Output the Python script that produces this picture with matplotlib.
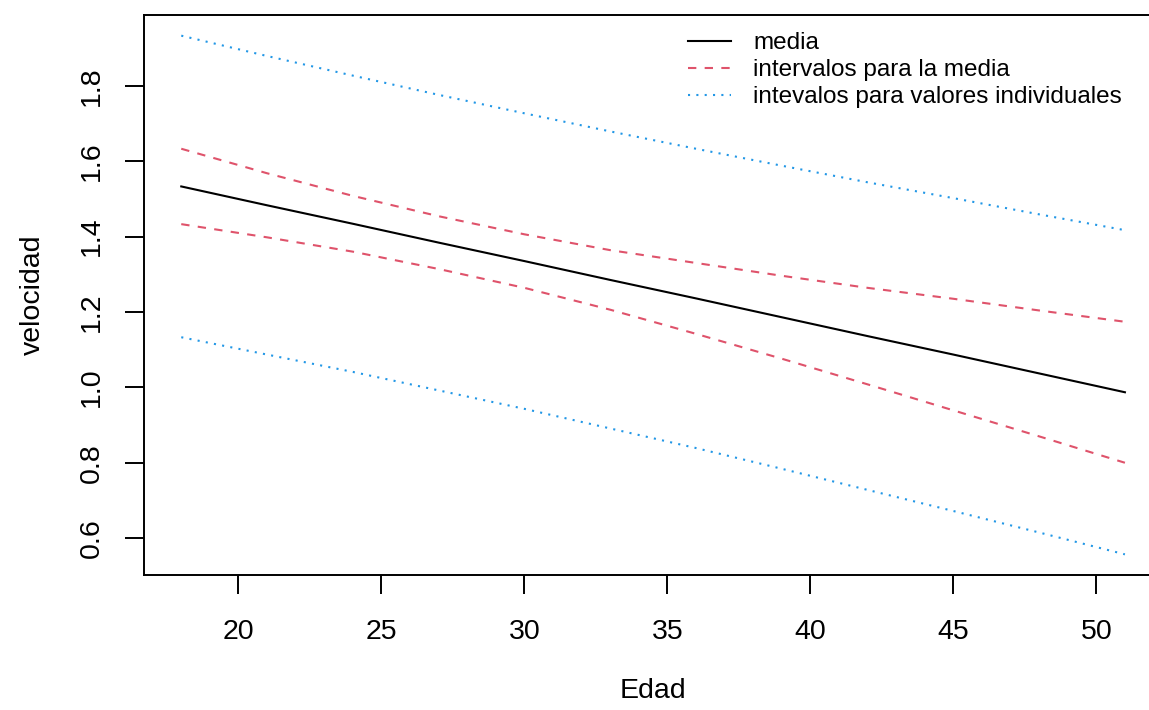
import matplotlib
matplotlib.use("Agg")
import matplotlib.pyplot as plt

plt.rcParams['font.family'] = ['Liberation Sans', 'DejaVu Sans']

# edades en las que se evalua el modelo
edad = [18, 21, 24, 27, 30, 33, 36, 39, 42, 45, 48, 51]

# velocidad media estimada
media = [1.533, 1.483, 1.434, 1.384, 1.335, 1.285, 1.236, 1.186, 1.136, 1.087, 1.037, 0.987]

# intervalos de confianza para la media
ic_sup = [1.633, 1.568, 1.508, 1.454, 1.406, 1.364, 1.330, 1.296, 1.264, 1.235, 1.204, 1.174]
ic_inf = [1.433, 1.398, 1.360, 1.314, 1.264, 1.206, 1.142, 1.076, 1.008, 0.939, 0.870, 0.800]

# intervalos de prediccion para valores individuales
ip_sup = [1.933, 1.879, 1.827, 1.776, 1.727, 1.679, 1.633, 1.588, 1.544, 1.502, 1.459, 1.417]
ip_inf = [1.133, 1.087, 1.041, 0.992, 0.943, 0.891, 0.839, 0.784, 0.728, 0.672, 0.615, 0.557]

x_ticks = [20, 25, 30, 35, 40, 45, 50]
y_ticks = [0.6, 0.8, 1.0, 1.2, 1.4, 1.6, 1.8]

rojo = '#DF536B'
azul = '#2297E6'

fig = plt.figure(figsize=(11.49, 7.10), dpi=100, facecolor='white')
ax = fig.add_axes([0.1249, 0.190, 0.887, 0.789])

lw = 1.5
ax.plot(edad, media, color='black', lw=lw, label='media')
ax.plot(edad, ic_sup, color=rojo, lw=lw, linestyle=(0, (4, 4)),
        label='intervalos para la media')
ax.plot(edad, ic_inf, color=rojo, lw=lw, linestyle=(0, (4, 4)))
ax.plot(edad, ip_sup, color=azul, lw=lw, linestyle=(0, (1, 3)),
        label='intevalos para valores individuales')
ax.plot(edad, ip_inf, color=azul, lw=lw, linestyle=(0, (1, 3)))

# rango con el 4% extra por cada lado
xr = max(edad) - min(edad)
ax.set_xlim(min(edad) - 0.04 * xr, max(edad) + 0.04 * xr)
yr = max(ip_sup) - min(ip_inf)
ax.set_ylim(min(ip_inf) - 0.04 * yr, max(ip_sup) + 0.04 * yr)

ax.set_xticks(x_ticks)
ax.set_xticklabels([str(v) for v in x_ticks], fontsize=20.5)
ax.set_yticks(y_ticks)
ax.set_yticklabels(['%.1f' % v for v in y_ticks], fontsize=20.5,
                   rotation=90, va='center')
ax.tick_params(direction='out', length=13.5, width=1.4, colors='black')
ax.tick_params(axis='x', pad=18)
ax.tick_params(axis='y', pad=14)

for s in ax.spines.values():
    s.set_linewidth(1.4)

ax.set_xlabel('Edad', fontsize=20.5, labelpad=24)
ax.set_ylabel('velocidad', fontsize=20.5, labelpad=24)

ax.legend(loc='upper left', bbox_to_anchor=(0.534, 0.969), frameon=False,
          fontsize=17.5, handlelength=1.8, handletextpad=0.9,
          labelspacing=0.2, borderaxespad=0, borderpad=0)

fig.savefig('out.png', dpi=100, facecolor='white')
